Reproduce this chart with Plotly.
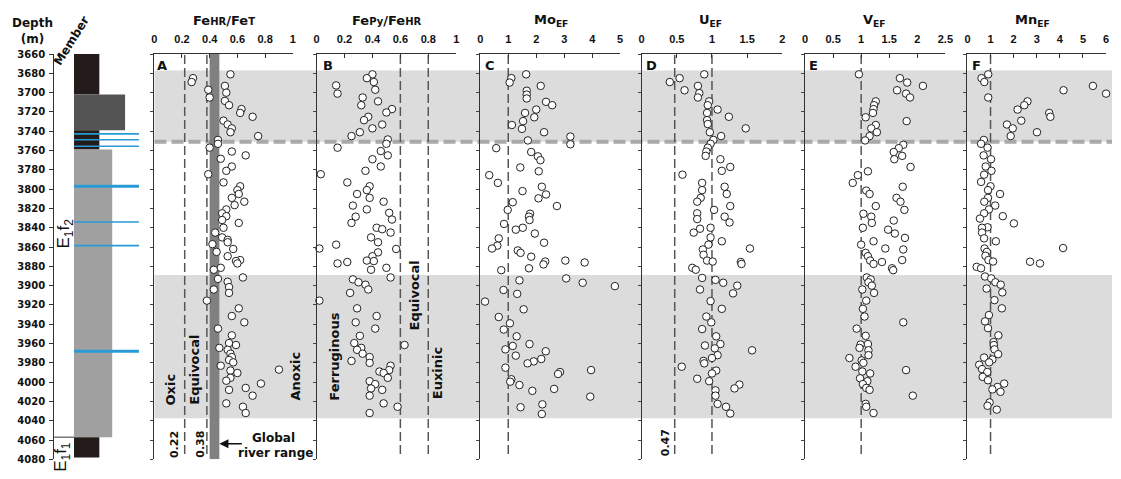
import plotly.graph_objects as go

W, H = 1121, 479

# ---------------- data ----------------
depth_ticks = list(range(3660, 4081, 20))

# lithology intervals: (top, base, type)
lith_top = [3660, 3702, 3739, 3759, 4057]
lith_base = [3702, 3739, 3759, 4057, 4078]
lith_type = ["black", "darkgrey", "black", "grey", "black"]
# thin blue beds (depth, thickness class)
bed_depth = [3742.7, 3748.8, 3755.5, 3797, 3834, 3858.5, 3968]
bed_thick = [1, 1, 1, 2, 1, 1, 2]

# shaded intervals and member boundary
band_top = [3677, 3889]
band_base = [3751, 4037.5]
boundary_depth = 3751
member_boundary = 4057

feA_depth = [3681, 3685, 3689, 3693, 3697, 3700, 3705, 3708.5, 3713, 3717, 3721, 3725, 3729, 3733, 3737, 3741,
             3745, 3749, 3753, 3757, 3761, 3765, 3768.5, 3776.5, 3781, 3784.5, 3793, 3797, 3801, 3805, 3809,
             3813, 3816.5, 3821, 3825, 3828, 3832, 3835, 3840, 3845, 3850, 3852.5, 3855, 3857, 3862, 3865,
             3869.5, 3873.5, 3874.5, 3877, 3881.5, 3883.5, 3891.5, 3893, 3896, 3901.5, 3904, 3907.5, 3915.5,
             3923.5, 3931.5, 3938, 3944.5, 3951.5, 3959.5, 3961.5, 3964.5, 3966.5, 3970.5, 3974, 3977, 3979.5,
             3983, 3987, 3988, 3990.5, 3995.5, 3998.5, 4001.5, 4006, 4008, 4014, 4022, 4025.5, 4032]
feA_val = [0.55, 0.28, 0.27, 0.51, 0.39, 0.52, 0.40, 0.51, 0.54, 0.63, 0.62, 0.71, 0.50, 0.53, 0.56, 0.55,
           0.75, 0.46, 0.46, 0.40, 0.56, 0.66, 0.48, 0.56, 0.52, 0.39, 0.50, 0.62, 0.60, 0.61, 0.56,
           0.65, 0.58, 0.52, 0.49, 0.52, 0.49, 0.61, 0.50, 0.44, 0.49, 0.53, 0.53, 0.42, 0.57, 0.45,
           0.53, 0.62, 0.59, 0.60, 0.48, 0.43, 0.64, 0.46, 0.53, 0.54, 0.43, 0.54, 0.38,
           0.61, 0.56, 0.65, 0.46, 0.56, 0.54, 0.59, 0.47, 0.53, 0.55, 0.56, 0.54, 0.57,
           0.48, 0.90, 0.55, 0.60, 0.55, 0.52, 0.77, 0.66, 0.54, 0.71, 0.52, 0.64, 0.66]

feB_depth = [3681, 3685, 3689, 3692.5, 3697, 3701, 3705, 3709, 3713, 3717, 3720.5, 3725, 3728.5, 3733, 3737,
             3741, 3745, 3748.5, 3753, 3757, 3760.5, 3765, 3769, 3776.5, 3781, 3784.5, 3793, 3797, 3801,
             3805, 3809, 3813, 3817, 3821, 3824.5, 3828.5, 3831.5, 3835, 3840, 3841.5, 3845, 3850, 3855,
             3857.5, 3861.5, 3862, 3865.5, 3869.5, 3874, 3874.5, 3875.5, 3877, 3881.5, 3883.5, 3891.5,
             3893.5, 3896.5, 3899, 3904, 3907.5, 3915.5, 3923.5, 3931.5, 3938, 3944.5, 3952, 3959.5,
             3961.5, 3964.5, 3966.5, 3970.5, 3974, 3978, 3980, 3983, 3987.5, 3989, 3990.5, 3995.5, 3999,
             4002, 4006.5, 4008, 4014, 4022, 4025.5, 4032]
feB_val = [0.40, 0.36, 0.41, 0.14, 0.42, 0.15, 0.33, 0.44, 0.32, 0.54, 0.50, 0.37, 0.34, 0.47, 0.40,
           0.31, 0.25, 0.51, 0.50, 0.15, 0.46, 0.51, 0.40, 0.46, 0.35, 0.03, 0.22, 0.38, 0.36,
           0.29, 0.38, 0.48, 0.26, 0.36, 0.52, 0.28, 0.54, 0.25, 0.43, 0.47, 0.53, 0.39, 0.44,
           0.14, 0.02, 0.57, 0.44, 0.40, 0.36, 0.41, 0.22, 0.15, 0.50, 0.39, 0.53,
           0.26, 0.30, 0.35, 0.37, 0.24, 0.02, 0.29, 0.43, 0.28, 0.42, 0.31, 0.27,
           0.63, 0.32, 0.29, 0.33, 0.38, 0.25, 0.38, 0.53, 0.52, 0.45, 0.48, 0.51, 0.38,
           0.42, 0.39, 0.47, 0.38, 0.48, 0.58, 0.38]

mo_depth = [3681, 3685, 3689.5, 3693, 3698, 3702, 3706, 3709.5, 3713, 3717.5, 3721, 3725.5, 3729.5, 3733.5,
            3737.5, 3741, 3745.5, 3749.5, 3753.5, 3757.5, 3761.5, 3766, 3770, 3777.5, 3781.5, 3785.5, 3793.5,
            3797.5, 3802, 3805.5, 3809.5, 3813.5, 3817.5, 3821.5, 3825.5, 3828.5, 3832, 3836, 3840, 3842,
            3846, 3851, 3855.5, 3858.5, 3861.5, 3863.5, 3866, 3870, 3874, 3875, 3876, 3878, 3882, 3884,
            3892.5, 3894.5, 3897, 3900.5, 3904.5, 3908.5, 3916.5, 3924.5, 3932.5, 3939, 3945.5, 3952.5,
            3960.5, 3962.5, 3966, 3968, 3972.5, 3976, 3978.5, 3980.5, 3985, 3987.5, 3989.5, 3991.5, 3997,
            3999.5, 4003, 4007, 4009, 4015, 4023, 4026, 4033]
mo_val = [1.64, 1.11, 1.05, 2.16, 1.66, 1.66, 1.66, 2.35, 2.57, 2.00, 1.60, 1.93, 1.53, 1.13,
          1.49, 2.28, 3.22, 1.70, 3.22, 0.57, 1.82, 2.06, 2.15, 1.43, 2.09, 0.32, 0.63,
          2.20, 1.51, 2.35, 2.08, 1.16, 2.74, 0.98, 1.78, 1.74, 1.76, 0.85, 1.52, 1.27,
          1.95, 0.66, 2.28, 0.61, 0.42, 1.34, 1.44, 1.82, 3.04, 2.32, 3.73, 2.26, 1.74, 0.75,
          3.07, 1.40, 3.66, 4.81, 0.83, 1.32, 0.17, 1.55, 0.66, 1.06, 0.84, 1.30,
          1.76, 1.16, 0.90, 2.34, 1.27, 2.18, 1.91, 1.69, 0.90, 3.96, 2.85, 2.78, 1.11,
          1.07, 1.40, 2.64, 1.86, 3.93, 2.22, 1.44, 2.20]

u_depth = [3681, 3685, 3689, 3693, 3697.5, 3700.5, 3705, 3709, 3713, 3717.5, 3721, 3725, 3728.5, 3732.5,
           3737, 3741, 3745, 3749, 3753, 3757, 3761, 3765.5, 3769, 3777, 3781, 3785, 3793.5, 3797.5, 3801,
           3805, 3809, 3813, 3817.5, 3821.5, 3825, 3828.5, 3831, 3834.5, 3840, 3841, 3845, 3850, 3854,
           3857.5, 3861.5, 3862.5, 3868, 3874, 3875, 3875.5, 3877.5, 3881.5, 3883.5, 3892, 3894, 3897,
           3900, 3904, 3908, 3916, 3924, 3932, 3938, 3945, 3952.5, 3960.5, 3962, 3965, 3967, 3972, 3975,
           3978, 3980.5, 3984, 3988, 3991, 3996.5, 3999, 4002.5, 4006.5, 4008.5, 4014, 4022.5, 4025.5, 4032.5]
u_val = [0.89, 0.54, 0.40, 0.80, 0.61, 0.82, 0.80, 0.96, 0.94, 1.08, 0.93, 1.24, 0.93, 0.94,
         1.48, 0.97, 1.13, 1.02, 0.98, 0.94, 0.92, 0.91, 1.12, 1.26, 1.14, 0.58, 0.86, 1.18, 0.86,
         1.21, 0.84, 0.79, 1.26, 1.03, 0.79, 1.18, 0.79, 1.25, 0.98, 0.83, 0.74, 0.98, 1.14,
         0.95, 1.54, 0.87, 0.88, 0.93, 1.01, 1.41, 1.42, 0.72, 0.77, 0.86, 1.05, 1.16,
         1.36, 0.83, 1.30, 0.98, 1.14, 0.92, 0.99, 0.86, 1.06, 1.12, 0.90, 1.04, 1.57, 1.08, 1.00,
         0.88, 0.89, 0.57, 1.06, 1.00, 0.79, 0.96, 1.39, 1.32, 1.05, 1.05, 1.08, 1.20, 1.26]

v_depth = [3681, 3685, 3689.5, 3693, 3697.5, 3701, 3705, 3709, 3713, 3717, 3721, 3725.5, 3729.5, 3733.5,
           3737, 3741, 3745, 3749.5, 3754, 3757.5, 3761.5, 3765.5, 3769, 3777, 3781.5, 3785.5, 3793.5,
           3797.5, 3801.5, 3805, 3809, 3813, 3817.5, 3821.5, 3825.5, 3828.5, 3832.5, 3835, 3840, 3842,
           3846, 3850.5, 3854, 3857.5, 3861.5, 3862.5, 3866, 3869.5, 3873.5, 3874, 3875.5, 3877.5, 3882,
           3884, 3891.5, 3893.5, 3896.5, 3900, 3904, 3907.5, 3915.5, 3924, 3932, 3938, 3944.5, 3952,
           3960.5, 3961, 3964.5, 3967, 3972, 3975, 3977.5, 3980, 3984, 3987.5, 3989, 3991, 3996, 3999,
           4002, 4006, 4008, 4014, 4022.5, 4025.5, 4032]
v_val = [0.96, 1.69, 1.82, 2.10, 1.64, 1.80, 1.87, 1.26, 1.23, 1.22, 1.21, 1.08, 1.81, 1.26,
         1.18, 1.28, 1.15, 1.07, 1.75, 1.67, 1.58, 1.73, 1.59, 1.88, 1.12, 0.94, 0.85,
         1.74, 1.09, 1.15, 1.63, 1.70, 1.26, 1.77, 1.04, 1.18, 1.58, 1.19, 1.03, 1.48,
         1.60, 1.78, 1.22, 1.00, 1.43, 1.75, 1.08, 1.12, 1.73, 1.16, 1.37, 1.22, 1.55,
         1.57, 1.10, 1.17, 1.13, 1.19, 1.02, 1.23, 1.09, 1.03, 1.06, 1.75, 0.92, 1.08,
         1.12, 0.99, 0.97, 1.13, 1.13, 0.79, 1.01, 1.04, 0.90, 1.80, 1.02, 1.16, 0.98, 1.11,
         1.03, 1.09, 1.15, 1.92, 1.08, 1.09, 1.22]

mn_depth = [3681, 3685, 3689, 3693, 3697.5, 3701, 3705, 3709, 3713, 3717.5, 3721, 3725, 3729, 3733, 3737,
            3741, 3745, 3749, 3753, 3757, 3765, 3769, 3776.5, 3781, 3785, 3792.5, 3797, 3801, 3805, 3809,
            3813, 3817, 3821, 3825, 3828, 3830.5, 3835.5, 3839.5, 3840, 3845, 3851, 3854, 3861, 3861.5,
            3865, 3869, 3873.5, 3875, 3875.2, 3877, 3880.5, 3882, 3890.5, 3892.5, 3896.5, 3899, 3903,
            3907, 3915, 3923.5, 3930.5, 3937, 3944, 3951.5, 3958.5, 3961.5, 3966, 3971, 3974.5, 3976.5,
            3979.5, 3982, 3986.5, 3989.5, 3994.5, 3998, 4001.5, 4005, 4007.5, 4010, 4021, 4024.5, 4028.5]
mn_val = [0.90, 0.61, 0.73, 5.43, 4.16, 6.00, 0.90, 2.60, 2.46, 2.17, 3.54, 3.59, 2.33, 1.71, 1.96,
          3.01, 1.87, 0.71, 0.59, 0.87, 0.70, 1.02, 0.79, 1.04, 0.72, 0.59, 1.00, 0.89, 1.41, 0.89,
          0.73, 1.20, 0.93, 0.72, 1.53, 0.54, 2.01, 0.87, 0.63, 0.63, 0.72, 1.23, 4.14, 0.74,
          0.84, 0.78, 0.91, 1.11, 2.71, 3.14, 0.40, 0.59, 0.76, 1.03, 1.21, 1.44, 0.83,
          1.51, 1.17, 1.49, 0.93, 0.76, 0.89, 1.34, 1.13, 1.14, 1.17, 1.33, 0.72, 1.08,
          0.94, 0.51, 0.63, 0.86, 0.66, 0.89, 1.59, 1.30, 1.08, 1.43, 0.96, 0.87, 1.27]

panel_letters = ["A", "B", "C", "D", "E", "F"]
panel_titles = [
    "Fe<span style='font-size:10px'>HR</span>/Fe<span style='font-size:10px'>T</span>",
    "Fe<span style='font-size:10px'>Py</span>/Fe<span style='font-size:10px'>HR</span>",
    "Mo<sub>EF</sub>", "U<sub>EF</sub>", "V<sub>EF</sub>", "Mn<sub>EF</sub>",
]
panel_max = [1, 1, 5, 2, 2.5, 6]
panel_ticks = [
    [0, 0.2, 0.4, 0.6, 0.8, 1],
    [0, 0.2, 0.4, 0.6, 0.8, 1],
    [0, 1, 2, 3, 4, 5],
    [0, 0.5, 1, 1.5, 2],
    [0, 0.5, 1, 1.5, 2, 2.5],
    [0, 1, 2, 3, 4, 5, 6],
]
panel_depths = [feA_depth, feB_depth, mo_depth, u_depth, v_depth, mn_depth]
panel_values = [feA_val, feB_val, mo_val, u_val, v_val, mn_val]
# reference thresholds per panel
panel_refs = [[0.22, 0.38], [0.6, 0.8], [1], [0.47, 1], [1], [1]]
river_range = [0.40, 0.47]

# ---------------- layout helpers ----------------
def px(x):
    return x / W

def py(y):
    return 1 - y / H

Y_DOM = [py(465), py(49.3)]
panel_px = [(152.7, 292.7), (316.7, 457.7), (482, 623.3), (645, 787), (810, 951.7), (974, 1114)]
FONT = "Liberation Sans, Arial, sans-serif"
WIDE = "DejaVu Sans, Verdana, sans-serif"
BLACK = "#111111"

fig = go.Figure()
layout = dict(
    width=W, height=H, margin=dict(l=0, r=0, t=0, b=0),
    paper_bgcolor="white", plot_bgcolor="rgba(0,0,0,0)", showlegend=False,
    font=dict(family=FONT, color=BLACK),
)

# lithology column axes
layout["xaxis"] = dict(domain=[px(51.7), px(151.7)], range=[0, 100], visible=False, fixedrange=True)
layout["yaxis"] = dict(
    domain=Y_DOM, range=[4080, 3660], anchor="x", tickmode="array", tickvals=depth_ticks,
    ticktext=[str(d) for d in depth_ticks], ticks="outside", ticklen=4, tickwidth=1, tickcolor="#333",
    showline=True, linecolor="#333", linewidth=1, showgrid=False, zeroline=False,
    tickfont=dict(family=WIDE, size=10, weight="bold", color=BLACK), ticklabelstandoff=2,
)

for i in range(6):
    n = i + 2
    x0, x1 = panel_px[i]
    layout[f"xaxis{n}"] = dict(
        domain=[px(x0), px(x1)], range=[0, panel_max[i]], anchor=f"y{n}", side="top",
        tickmode="array", tickvals=panel_ticks[i], ticktext=[f"{t:g}" for t in panel_ticks[i]],
        ticks="inside", ticklen=4, tickcolor="#333", showline=True, linecolor="#333", linewidth=1,
        showgrid=False, zeroline=False, ticklabelstandoff=6,
        tickfont=dict(family=FONT, size=11, weight="bold", color=BLACK),
    )
    layout[f"yaxis{n}"] = dict(
        domain=Y_DOM, range=[4080, 3660], anchor=f"x{n}", matches="y", tickmode="array",
        tickvals=depth_ticks, showticklabels=False, ticks="outside", ticklen=3, tickcolor="#444",
        showline=True, linecolor="#333", linewidth=1, showgrid=False, zeroline=False,
    )

shapes = []
annotations = []

# shaded intervals and the upper boundary spanning all geochemical panels
for t, b in zip(band_top, band_base):
    shapes.append(dict(type="rect", xref="paper", yref="y", x0=px(153), x1=px(1120), y0=t, y1=b,
                       fillcolor="#dcdcdc", line=dict(width=0), layer="below"))
shapes.append(dict(type="line", xref="paper", yref="y", x0=px(153), x1=px(1120),
                   y0=boundary_depth, y1=boundary_depth,
                   line=dict(color="#a9a9a9", width=4, dash="12px,5px"), layer="below"))

# global river range band in panel A
shapes.append(dict(type="rect", xref="x2", yref="y2", x0=river_range[0], x1=river_range[1],
                   y0=3660, y1=4080, fillcolor="#808080", line=dict(width=0), layer="below"))

# threshold lines
for i, refs in enumerate(panel_refs):
    n = i + 2
    for r in refs:
        shapes.append(dict(type="line", xref=f"x{n}", yref=f"y{n}", x0=r, x1=r, y0=3661, y1=4077,
                           line=dict(color="#555555", width=1.5, dash="9px,4px"), layer="below"))

# lithology column
lith_fill = {"black": "#231c1a", "darkgrey": "#545454", "grey": "#a0a0a0"}
lith_width = {"black": 45.6, "darkgrey": 71.6, "grey": 58.6}
for t, b, k in zip(lith_top, lith_base, lith_type):
    shapes.append(dict(type="rect", xref="x", yref="y", x0=20, x1=lith_width[k], y0=t, y1=b,
                       fillcolor=lith_fill[k], line=dict(width=0)))
for d, th in zip(bed_depth, bed_thick):
    shapes.append(dict(type="line", xref="x", yref="y", x0=20, x1=85.6, y0=d, y1=d,
                       line=dict(color="#2a9ad6", width=1.6 if th == 1 else 3.2)))
shapes.append(dict(type="line", xref="x", yref="y", x0=-3, x1=20, y0=member_boundary, y1=member_boundary,
                   line=dict(color="#333", width=1)))

# sample points
for i in range(6):
    n = i + 2
    fig.add_trace(go.Scatter(
        x=panel_values[i], y=panel_depths[i], xaxis=f"x{n}", yaxis=f"y{n}", mode="markers",
        marker=dict(size=7.5, color="white", line=dict(color="#222", width=1)),
        cliponaxis=False,
    ))

def note(text, x, y, size=12, angle=0, bold=True, family=WIDE, **kw):
    annotations.append(dict(
        text=text, xref="paper", yref="paper", x=px(x), y=py(y), showarrow=False,
        textangle=angle, xanchor="center", yanchor="middle",
        font=dict(family=family, size=size, color=BLACK, weight="bold" if bold else "normal"), **kw))

note("Depth<br>(m)", 30, 26, size=12)
note("Member", 69, 36, size=12, angle=-58)
note("E<sub>1</sub>f<sub>2</sub>", 63, 233, size=17, angle=-90, bold=False, family=FONT)
note("E<sub>1</sub>f<sub>1</sub>", 60, 462, size=17, angle=-90, bold=False, family=FONT)

title_cx = [223, 388, 553, 715, 880, 1040]
letter_cx = [160.7, 328, 491.7, 655, 819, 983]
for i in range(6):
    note(panel_titles[i], title_cx[i], 15, size=13)
    note(panel_letters[i], letter_cx[i], 61, size=13)

note("Oxic", 169, 393, size=13, angle=-90)
note("Equivocal", 194, 373, size=13, angle=-90)
note("Anoxic", 295, 380, size=13, angle=-90)
note("0.22", 173, 450, size=11, angle=-90)
note("0.38", 200, 450, size=11, angle=-90)
note("Global", 273, 443, size=12)
note("river range", 275, 458, size=12)
note("Ferruginous", 335, 360, size=13, angle=-90)
note("Equivocal", 416, 297, size=13, angle=-90)
note("Euxinic", 439, 377, size=13, angle=-90)
note("0.47", 669, 448, size=11, angle=-90)

annotations.append(dict(
    text="", xref="x2", yref="paper", x=river_range[1], y=py(449), axref="pixel", ayref="pixel",
    ax=24, ay=0, showarrow=True, arrowhead=2, arrowsize=1.3, arrowwidth=1.4, arrowcolor=BLACK,
))

layout["shapes"] = shapes
layout["annotations"] = annotations
fig.update_layout(**layout)
fig.write_html("out.html")
